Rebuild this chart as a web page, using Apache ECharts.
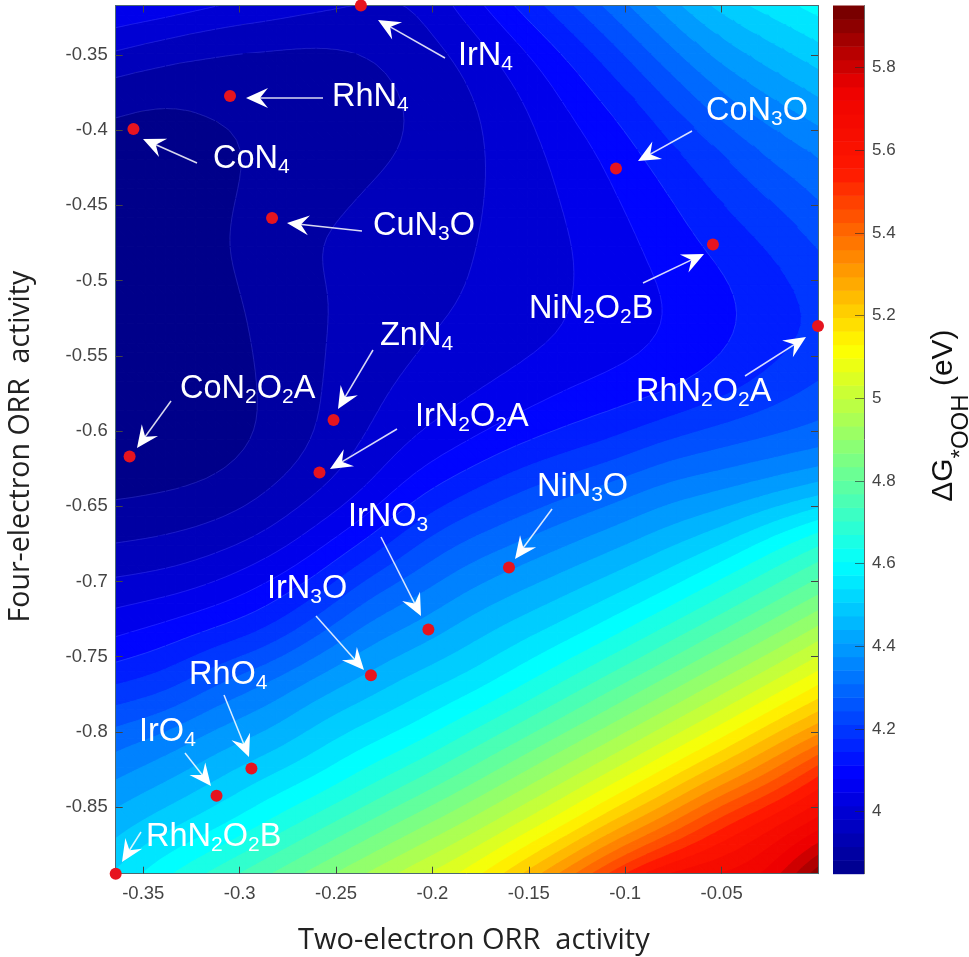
<html>

<head>
    <meta charset='utf-8' />
    <script src="https://cdn.jsdelivr.net/npm/echarts@6/dist/echarts.min.js"></script>
    <title>Two-electron vs four-electron ORR activity</title>
    <style>
        html, body { margin: 0; padding: 0; background: #fff; }
        #chart { width: 969px; height: 957px; }
    </style>
</head>

<body>
    <div id="chart"></div>
    <script type="text/javascript">
        // contour field
        var gridX = [-0.3643, -0.3383, -0.3123, -0.2863, -0.2602, -0.2342, -0.2082, -0.1822, -0.1561, -0.1301, -0.1041, -0.0781, -0.052, -0.026, 0];
        var gridY = [-0.3171, -0.3492, -0.3812, -0.4133, -0.4454, -0.4775, -0.5095, -0.5416, -0.5737, -0.6058, -0.6378, -0.6699, -0.702, -0.7341, -0.7661, -0.7982, -0.8303, -0.8623, -0.8943];
        var gooh = [
            [4.10, 4.08, 4.05, 4.03, 4.01, 3.995, 3.995, 4.07, 4.155, 4.237, 4.325, 4.423, 4.516, 4.57, 4.62],
            [3.99, 3.96, 3.94, 3.935, 3.93, 3.945, 3.971, 4.009, 4.08, 4.153, 4.233, 4.329, 4.413, 4.473, 4.525],
            [3.905, 3.895, 3.91, 3.91, 3.92, 3.93, 3.953, 3.988, 4.036, 4.104, 4.166, 4.24, 4.33, 4.388, 4.44],
            [3.88, 3.87, 3.885, 3.91, 3.92, 3.935, 3.955, 3.984, 4.023, 4.07, 4.12, 4.184, 4.243, 4.31, 4.355],
            [3.86, 3.87, 3.89, 3.915, 3.935, 3.955, 3.973, 3.99, 4.017, 4.055, 4.097, 4.143, 4.198, 4.248, 4.30],
            [3.85, 3.87, 3.895, 3.92, 3.955, 3.965, 3.98, 3.995, 4.017, 4.044, 4.08, 4.12, 4.161, 4.198, 4.25],
            [3.85, 3.865, 3.885, 3.915, 3.945, 3.965, 3.983, 4.00, 4.023, 4.045, 4.073, 4.10, 4.132, 4.173, 4.212],
            [3.85, 3.86, 3.875, 3.91, 3.945, 3.972, 3.996, 4.015, 4.032, 4.054, 4.079, 4.102, 4.133, 4.176, 4.208],
            [3.85, 3.86, 3.87, 3.905, 3.945, 3.985, 4.015, 4.04, 4.068, 4.10, 4.12, 4.14, 4.18, 4.22, 4.26],
            [3.86, 3.865, 3.87, 3.905, 3.95, 4.00, 4.05, 4.09, 4.135, 4.168, 4.20, 4.248, 4.278, 4.30, 4.32],
            [3.885, 3.89, 3.905, 3.94, 3.985, 4.043, 4.126, 4.186, 4.24, 4.28, 4.318, 4.366, 4.386, 4.417, 4.455],
            [3.9375, 3.948, 3.968, 4.00, 4.064, 4.136, 4.235, 4.296, 4.336, 4.381, 4.422, 4.47, 4.515, 4.596, 4.675],
            [4.01, 4.02, 4.05, 4.10, 4.165, 4.27, 4.327, 4.388, 4.434, 4.478, 4.524, 4.58, 4.658, 4.736, 4.814],
            [4.09, 4.122, 4.159, 4.20, 4.29, 4.374, 4.417, 4.477, 4.526, 4.574, 4.64, 4.718, 4.796, 4.876, 4.97],
            [4.186, 4.214, 4.292, 4.35, 4.413, 4.463, 4.52, 4.557, 4.623, 4.70, 4.78, 4.857, 4.945, 5.034, 5.13],
            [4.31, 4.346, 4.405, 4.44, 4.51, 4.56, 4.606, 4.683, 4.76, 4.84, 4.92, 5.01, 5.10, 5.206, 5.31],
            [4.395, 4.44, 4.493, 4.55, 4.595, 4.669, 4.74, 4.82, 4.902, 4.987, 5.076, 5.18, 5.293, 5.413, 5.57],
            [4.48, 4.533, 4.585, 4.651, 4.73, 4.806, 4.885, 4.96, 5.047, 5.143, 5.27, 5.39, 5.55, 5.65, 5.72],
            [4.555, 4.64, 4.714, 4.79, 4.87, 4.95, 5.03, 5.11, 5.23, 5.37, 5.53, 5.66, 5.70, 5.74, 5.93]
        ];

        // catalysts
        var names = ['IrN4', 'RhN4', 'CoN4', 'CuN3O', 'ZnN4', 'CoN2O2A', 'IrN2O2A', 'CoN3O', 'NiN2O2B', 'RhN2O2A', 'NiN3O', 'IrNO3', 'IrN3O', 'RhO4', 'IrO4', 'RhN2O2B'];
        var twoElectron = [-0.2371, -0.305, -0.3551, -0.2832, -0.2513, -0.3571, -0.2586, -0.1048, -0.0545, 0, -0.1603, -0.2021, -0.2319, -0.2939, -0.312, -0.3643];
        var fourElectron = [-0.3171, -0.3773, -0.3992, -0.4584, -0.5927, -0.617, -0.6276, -0.4255, -0.476, -0.5302, -0.6908, -0.732, -0.7623, -0.8244, -0.8424, -0.8943];

        var xTicks = [-0.35, -0.3, -0.25, -0.2, -0.15, -0.1, -0.05];
        var yTicks = [-0.35, -0.4, -0.45, -0.5, -0.55, -0.6, -0.65, -0.7, -0.75, -0.8, -0.85];
        var barTicks = [4, 4.2, 4.4, 4.6, 4.8, 5, 5.2, 5.4, 5.6, 5.8];

        // colour scale
        var stopValues = [3.85, 4.09, 4.6, 5.12, 5.55, 5.75, 5.95];
        var stopColors = [[0, 0, 138], [0, 0, 255], [0, 255, 255], [255, 255, 0], [255, 24, 0], [238, 0, 0], [110, 0, 0]];

        var vMin = 3.85, vMax = 5.95, levelStep = 0.05, barSteps = 64;

        // label left edge, label middle, arrow tail x,y, arrow tip x,y (pixels)
        var callouts = [
            [458, 55, 445, 58, 378, 20], [332, 96, 323, 98, 246, 98], [213, 158, 197, 163, 143, 139],
            [373, 225, 362, 231, 287, 223], [380, 335, 373, 350, 338, 409], [180, 388, 171, 401, 137, 448],
            [415, 416, 397, 429, 330, 469], [706, 110, 692, 131, 638, 161], [529, 308, 643, 283, 704, 254],
            [636, 391, 745, 376, 806, 337], [537, 486, 552, 509, 515, 559], [348, 516, 381, 537, 421, 616],
            [267, 588, 316, 616, 364, 670], [189, 674, 224, 695, 249, 757], [139, 731, 185, 753, 211, 786],
            [146, 836, 141, 832, 122, 862]
        ];

        function colorOf(v) {
            var k = 0;
            while (k < stopValues.length - 2 && v > stopValues[k + 1]) k++;
            var t = Math.max(0, Math.min(1, (v - stopValues[k]) / (stopValues[k + 1] - stopValues[k])));
            var c = [0, 1, 2].map(function(n) {
                return Math.round(stopColors[k][n] + t * (stopColors[k + 1][n] - stopColors[k][n]));
            });
            return 'rgb(' + c.join(',') + ')';
        }

        // contouring on a finer mesh: a spline over the read values evens out reading noise
        var subdiv = 5;

        function spline(p0, p1, p2, p3, t) {
            var u = 1 - t;
            return (u * u * u * p0 + (3 * t * t * t - 6 * t * t + 4) * p1 + (-3 * t * t * t + 3 * t * t + 3 * t + 1) * p2 + t * t * t * p3) / 6;
        }

        // one step past the edge of the table runs on at the edge slope
        function readAt(j, i) {
            var ny = gooh.length - 1, nx = gooh[0].length - 1;
            var jj = Math.max(0, Math.min(ny, j)), ii = Math.max(0, Math.min(nx, i));
            var v = gooh[jj][ii];
            if (i < 0) v += gooh[jj][0] - gooh[jj][1];
            if (i > nx) v += gooh[jj][nx] - gooh[jj][nx - 1];
            if (j < 0) v += gooh[0][ii] - gooh[1][ii];
            if (j > ny) v += gooh[ny][ii] - gooh[ny - 1][ii];
            return v;
        }

        function fieldAt(u, w) {
            var i = Math.min(Math.floor(u), gooh[0].length - 2), j = Math.min(Math.floor(w), gooh.length - 2);
            var rows = [];
            for (var r = -1; r <= 2; r++) {
                rows.push(spline(readAt(j + r, i - 1), readAt(j + r, i), readAt(j + r, i + 1), readAt(j + r, i + 2), u - i));
            }
            return spline(rows[0], rows[1], rows[2], rows[3], w - j);
        }

        // clip a polygon of [x, y, v] corners against one level
        function clipSide(poly, level, keepAbove) {
            var out = [];
            for (var i = 0; i < poly.length; i++) {
                var a = poly[i], b = poly[(i + 1) % poly.length];
                var aIn = keepAbove ? a[2] >= level : a[2] <= level;
                var bIn = keepAbove ? b[2] >= level : b[2] <= level;
                if (aIn) out.push(a);
                if (aIn !== bIn) {
                    var k = (level - a[2]) / (b[2] - a[2]);
                    out.push([a[0] + k * (b[0] - a[0]), a[1] + k * (b[1] - a[1]), level]);
                }
            }
            return out;
        }

        var cells = [];
        for (var cj = 0; cj < gridY.length - 1; cj++) {
            for (var ci = 0; ci < gridX.length - 1; ci++) cells.push([ci, cj]);
        }

        function node(i, j, a, b) {
            var u = a / subdiv, w = b / subdiv;
            return [
                gridX[i] + u * (gridX[i + 1] - gridX[i]),
                gridY[j] + w * (gridY[j + 1] - gridY[j]),
                fieldAt(i + u, j + w)
            ];
        }

        function addTriangle(tri, api, fills, lines) {
            var vals = [tri[0][2], tri[1][2], tri[2][2]];
            var low = Math.min.apply(null, vals), high = Math.max.apply(null, vals);
            var first = Math.floor((low - vMin) / levelStep + 1e-9);
            var last = Math.floor((high - vMin) / levelStep + 1e-9);
            for (var n = first; n <= last; n++) {
                var lo = vMin + n * levelStep;
                var poly = clipSide(clipSide(tri, lo, true), lo + levelStep, false);
                if (poly.length < 3) continue;
                var color = colorOf(lo);
                fills.push({
                    type: 'polygon',
                    shape: { points: poly.map(function(p) { return api.coord([p[0], p[1]]); }) },
                    style: { fill: color, stroke: color, lineWidth: 1.2, lineJoin: 'round' }
                });
                // faint contour lines, only the dark part of the map shows them
                if (n > first && lo < 4.16) {
                    var edge = poly.filter(function(p) { return Math.abs(p[2] - lo) < 1e-9; });
                    if (edge.length === 2) {
                        var p1 = api.coord([edge[0][0], edge[0][1]]), p2 = api.coord([edge[1][0], edge[1][1]]);
                        lines.push({
                            type: 'line',
                            shape: { x1: p1[0], y1: p1[1], x2: p2[0], y2: p2[1] },
                            style: { stroke: 'rgba(190,200,255,0.14)', lineWidth: 1 }
                        });
                    }
                }
            }
        }

        function renderCell(params, api) {
            var i = api.value(0), j = api.value(1), fills = [], lines = [];
            for (var b = 0; b < subdiv; b++) {
                for (var a = 0; a < subdiv; a++) {
                    var c0 = node(i, j, a, b), c1 = node(i, j, a + 1, b), c2 = node(i, j, a + 1, b + 1), c3 = node(i, j, a, b + 1);
                    addTriangle([c0, c1, c2], api, fills, lines);
                    addTriangle([c0, c2, c3], api, fills, lines);
                }
            }
            return { type: 'group', children: fills.concat(lines) };
        }

        var barCells = [];
        for (var s = 0; s < barSteps; s++) {
            barCells.push([vMin + s * (vMax - vMin) / barSteps, vMin + (s + 1) * (vMax - vMin) / barSteps]);
        }

        function renderBar(params, api) {
            var a = api.coord([0, api.value(0)]), b = api.coord([1, api.value(1)]);
            return {
                type: 'rect',
                shape: { x: a[0], y: b[1], width: b[0] - a[0], height: a[1] - b[1] + 0.5 },
                style: { fill: colorOf((api.value(0) + api.value(1)) / 2) }
            };
        }

        // digits become subscripts, the trailing A/B of a name does not
        function richName(name) {
            return name.replace(/[A-Za-z]+|\d/g, function(m) {
                return /\d/.test(m) ? '{s|' + m + '}' : '{n|' + m + '}';
            });
        }

        var graphics = [];
        names.forEach(function(name, k) {
            var c = callouts[k];
            var ang = Math.atan2(c[5] - c[3], c[4] - c[2]);
            var pt = function(back, side) {
                return [c[4] - back * Math.cos(ang) - side * Math.sin(ang), c[5] - back * Math.sin(ang) + side * Math.cos(ang)];
            };
            graphics.push({
                type: 'line', z: 20, silent: true,
                shape: { x1: c[2], y1: c[3], x2: pt(8, 0)[0], y2: pt(8, 0)[1] },
                style: { stroke: 'rgba(255,255,255,0.85)', lineWidth: 1.5 }
            });
            graphics.push({
                type: 'polygon', z: 20, silent: true,
                shape: { points: [pt(0, 0), pt(22, 10), pt(14, 0), pt(22, -10)] },
                style: { fill: '#fff' }
            });
            graphics.push({
                type: 'text', z: 21, silent: true, x: c[0], y: c[1],
                style: {
                    text: richName(name), align: 'left', verticalAlign: 'middle',
                    rich: {
                        n: { fontFamily: 'Liberation Sans', fontSize: 32.5, lineHeight: 36, fill: '#fff', verticalAlign: 'bottom' },
                        s: { fontFamily: 'Liberation Sans', fontSize: 21, lineHeight: 20, fill: '#fff', verticalAlign: 'bottom', padding: [0, 0, -2, 0] }
                    }
                }
            });
        });

        var tickLabel = { fontFamily: 'Liberation Sans', fontSize: 18.5, color: '#444' };
        var titleFont = { fontFamily: 'Open Sans', fontSize: 29, color: '#222' };
        var xRange = { min: -0.3643, max: 0 }, yRange = { min: -0.8943, max: -0.3171 };

        function xAxisOf(position, showLabel) {
            return {
                type: 'value', gridIndex: 0, position: position, min: xRange.min, max: xRange.max, z: 4,
                splitLine: { show: false },
                axisLine: { onZero: false, lineStyle: { color: '#4d6a70', width: 1 } },
                axisTick: { inside: true, length: 7, customValues: xTicks, lineStyle: { color: '#444' } },
                axisLabel: Object.assign({ show: showLabel, customValues: xTicks, margin: 11 }, tickLabel)
            };
        }

        function yAxisOf(position, showLabel) {
            return {
                type: 'value', gridIndex: 0, position: position, min: yRange.min, max: yRange.max, z: 4,
                splitLine: { show: false },
                axisLine: { onZero: false, lineStyle: { color: '#4d6a70', width: 1 } },
                axisTick: { inside: true, length: 7, customValues: yTicks, lineStyle: { color: '#444' } },
                axisLabel: Object.assign({ show: showLabel, customValues: yTicks, margin: 8 }, tickLabel)
            };
        }

        var bottomX = xAxisOf('bottom', true);
        bottomX.name = 'Two-electron ORR  activity';
        bottomX.nameLocation = 'middle';
        bottomX.nameGap = 53;
        bottomX.nameTextStyle = Object.assign({ padding: [0, 0, 0, 14] }, titleFont);
        var leftY = yAxisOf('left', true);
        leftY.name = 'Four-electron ORR  activity';
        leftY.nameLocation = 'middle';
        leftY.nameGap = 80;
        leftY.nameTextStyle = Object.assign({}, titleFont, { fontSize: 28.5, padding: [0, 14, 0, 0] });

        var chart = echarts.init(document.getElementById('chart'), null, { renderer: 'canvas' });
        chart.setOption({
            animation: false,
            backgroundColor: '#fff',
            grid: [
                { left: 115.7, top: 5.5, width: 702.3, height: 868.2, outerBoundsMode: 'none' },
                { left: 833, top: 5.5, width: 31, height: 868.2, outerBoundsMode: 'none' }
            ],
            xAxis: [
                bottomX,
                xAxisOf('top', false),
                { type: 'value', gridIndex: 1, min: 0, max: 1, show: false }
            ],
            yAxis: [
                leftY,
                yAxisOf('right', false),
                {
                    type: 'value', gridIndex: 1, position: 'right', min: vMin, max: vMax, z: 4,
                    splitLine: { show: false },
                    axisLine: { show: true, onZero: false, lineStyle: { color: '#666' } },
                    axisTick: { inside: true, length: 9, customValues: barTicks, lineStyle: { color: 'rgba(40,40,40,0.6)' } },
                    axisLabel: Object.assign({}, tickLabel, { customValues: barTicks, margin: 8, fontSize: 17 }),
                    name: '{t|\u0394G}{s|*OOH}{t| (eV)}',
                    nameLocation: 'middle',
                    nameGap: 65,
                    nameRotate: 90,
                    nameTextStyle: {
                        padding: [0, 0, 0, 48],
                        rich: {
                            t: { fontFamily: 'Liberation Sans', fontSize: 30, lineHeight: 34, color: '#111', verticalAlign: 'top' },
                            s: { fontFamily: 'Liberation Sans', fontSize: 24, lineHeight: 44, color: '#111', verticalAlign: 'bottom' }
                        }
                    }
                }
            ],
            series: [{
                type: 'custom',
                name: 'field',
                xAxisIndex: 0,
                yAxisIndex: 0,
                silent: true,
                clip: true,
                renderItem: renderCell,
                data: cells,
                z: 1
            }, {
                type: 'scatter',
                name: 'catalysts',
                xAxisIndex: 0,
                yAxisIndex: 0,
                silent: true,
                clip: false,
                symbolSize: 12,
                itemStyle: { color: '#e6141f', opacity: 1 },
                data: names.map(function(n, k) { return { name: n, value: [twoElectron[k], fourElectron[k]] }; }),
                z: 5
            }, {
                type: 'custom',
                name: 'colorbar',
                xAxisIndex: 2,
                yAxisIndex: 2,
                silent: true,
                renderItem: renderBar,
                data: barCells,
                z: 1
            }],
            graphic: graphics
        });
    </script>
</body>

</html>
